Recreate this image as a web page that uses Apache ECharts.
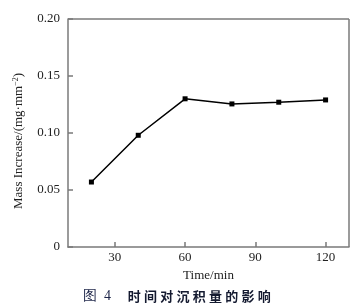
<!DOCTYPE html>
<html><head><meta charset="utf-8">
<script src="https://cdn.jsdelivr.net/npm/echarts@6/dist/echarts.min.js"></script>
<style>html,body{margin:0;padding:0;background:#fff}#c{width:361px;height:306px}</style>
</head><body><div id="c"></div>
<script>
const times = [20, 40, 60, 80, 100, 120];
const massIncrease = [0.057, 0.098, 0.130, 0.1255, 0.127, 0.129];
const xTicks = [30, 60, 90, 120];
const yTicks = [0, 0.05, 0.10, 0.15, 0.20];
const yTickLabels = ['0', '0.05', '0.10', '0.15', '0.20'];
const captionNum = ['图', '4'];
const captionText = '时间对沉积量的影响';

const axisCol = '#7a7a7a';
const serif = '"Liberation Serif", "DejaVu Serif", serif';
const sp = '\u2005';
const chart = echarts.init(document.getElementById('c'), null, {renderer: 'canvas'});
chart.setOption({
  animation: false,
  backgroundColor: '#fff',
  grid: {left: 68, right: 12, top: 19, bottom: 59},
  graphic: [{
    type: 'text', left: 83, top: 289,
    style: {
      text: '{a|' + captionNum.join('  ') + '}' + '     ' + '{b|' + captionText.split('').join(sp) + '}',
      rich: {
        a: {fontFamily: serif, fontSize: 14, fill: '#1c2448'},
        b: {fontFamily: '"Noto Sans CJK SC", sans-serif', fontSize: 13, fontWeight: 'bold', fill: '#141a30'}
      }
    }
  }],
  xAxis: {
    type: 'value', min: 10, max: 130,
    name: 'Time/min', nameLocation: 'middle', nameGap: 21,
    nameTextStyle: {fontFamily: serif, fontSize: 13, color: '#222'},
    axisLine: {show: true, lineStyle: {color: axisCol, width: 1.5}},
    axisTick: {show: true, inside: true, length: 5, lineStyle: {color: axisCol, width: 1.5}, customValues: xTicks},
    axisLabel: {fontFamily: serif, fontSize: 13, color: '#222', margin: 4, customValues: xTicks},
    splitLine: {show: false}
  },
  yAxis: {
    type: 'value', min: 0, max: 0.2, interval: 0.05,
    name: 'Mass Increase/(mg·mm{s|−2})', nameLocation: 'middle', nameGap: 43, nameRotate: 90,
    nameTextStyle: {fontFamily: serif, fontSize: 13, color: '#222', padding: [0, 16, 0, 0],
      rich: {s: {fontFamily: serif, fontSize: 8, verticalAlign: 'top', lineHeight: 8, color: '#222'}}},
    axisLine: {show: true, lineStyle: {color: axisCol, width: 1.5}},
    axisTick: {show: true, inside: true, length: 5, lineStyle: {color: axisCol, width: 1.5}},
    axisLabel: {fontFamily: serif, fontSize: 13, color: '#222', margin: 8,
      formatter: function (v) { const i = yTicks.findIndex(t => Math.abs(t - v) < 1e-9); return i >= 0 ? yTickLabels[i] : ''; }},
    splitLine: {show: false}
  },
  series: [{
    type: 'line',
    data: times.map((t, i) => [t, massIncrease[i]]),
    symbol: 'rect', symbolSize: 5, showSymbol: true,
    lineStyle: {color: '#000', width: 1.5},
    itemStyle: {color: '#000'}
  }, {
    type: 'line', data: [],
    markLine: {
      silent: true, symbol: 'none', label: {show: false},
      lineStyle: {color: axisCol, width: 1.5, type: 'solid'},
      data: [[{coord: [10, 0.2]}, {coord: [130, 0.2]}], [{coord: [130, 0]}, {coord: [130, 0.2]}]]
    }
  }]
});
</script></body></html>
